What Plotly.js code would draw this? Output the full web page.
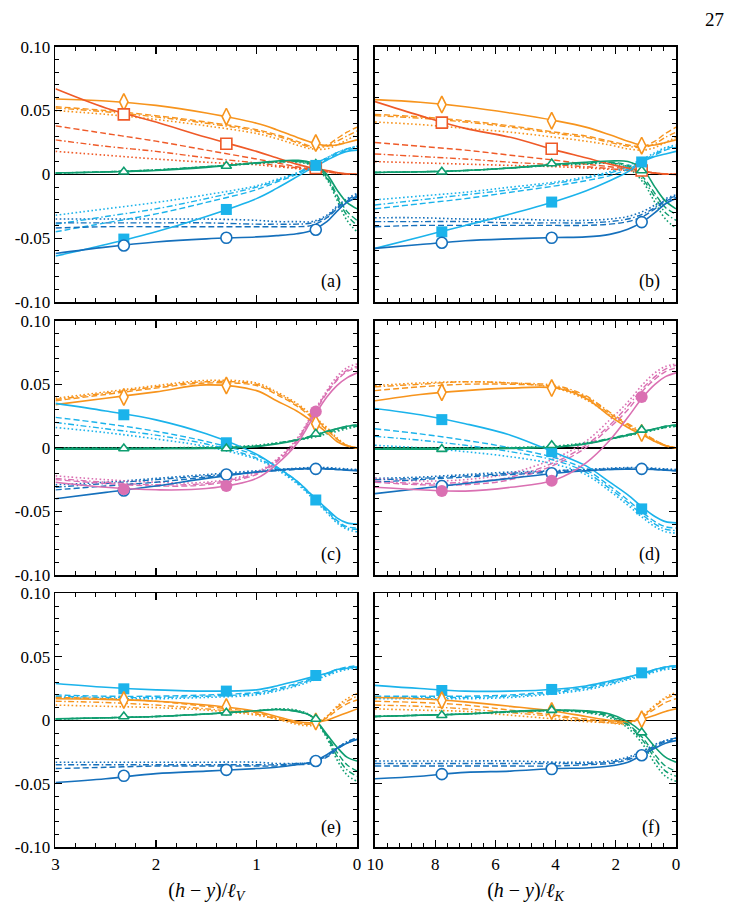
<!DOCTYPE html>
<html><head><meta charset="utf-8">
<script src="https://cdn.plot.ly/plotly-3.0.1.min.js"></script>
<style>html,body{margin:0;padding:0;background:#fff}#chart{width:732px;height:910px}</style>
</head><body><div id="chart"></div>
<script>
// ---------- x grids ----------
const xL = [3, 2.5, 2, 1.5, 1, 0.8, 0.6, 0.45, 0.3, 0.2, 0.1, 0];
const xR = [10, 8.5, 7, 5.5, 4, 3, 2.2, 1.6, 1.1, 0.7, 0.35, 0];
const mkXL = [2.32, 1.3, 0.41];
const mkXR = [7.78, 4.13, 1.14];
const xTickL = [3, 2, 1, 0];
const xTickR = [10, 8, 6, 4, 2, 0];
const yTickVals = [-0.1, -0.05, 0, 0.05, 0.1];
const yTickText = ['-0.10', '-0.05', '0', '0.05', '0.10'];
const panelLabels = ['(a)', '(b)', '(c)', '(d)', '(e)', '(f)'];
const xTitleL = '(<i>h</i> − <i>y</i>)/<i>ℓ</i><sub><i>V</i></sub>';
const xTitleR = '(<i>h</i> − <i>y</i>)/<i>ℓ</i><sub><i>K</i></sub>';
const pageNumber = '27';

// each group: [solid, dashed, dash-dot, dotted]
// ---------- panel (a) ----------
const aOrange = [
  [0.059, 0.0575, 0.054, 0.048, 0.040, 0.035, 0.029, 0.025, 0.0225, 0.023, 0.025, 0.027],
  [0.053, 0.050, 0.046, 0.041, 0.035, 0.031, 0.026, 0.022, 0.023, 0.028, 0.033, 0.037],
  [0.052, 0.049, 0.045, 0.040, 0.034, 0.030, 0.025, 0.021, 0.022, 0.026, 0.030, 0.034],
  [0.050, 0.047, 0.043, 0.038, 0.032, 0.028, 0.023, 0.020, 0.020, 0.023, 0.027, 0.031]];
const aVerm = [
  [0.067, 0.052, 0.041, 0.029, 0.018, 0.013, 0.008, 0.005, 0.003, 0.0015, 0.0005, 0],
  [0.038, 0.032, 0.026, 0.019, 0.012, 0.009, 0.006, 0.004, 0.002, 0.001, 0.0003, 0],
  [0.027, 0.022, 0.018, 0.013, 0.009, 0.007, 0.005, 0.003, 0.002, 0.001, 0.0003, 0],
  [0.018, 0.015, 0.012, 0.0095, 0.0075, 0.006, 0.0045, 0.003, 0.002, 0.001, 0.0003, 0]];
const aGreen = [
  [0.0012, 0.0018, 0.003, 0.0055, 0.009, 0.0105, 0.011, 0.009, 0.0, -0.012, -0.022, -0.027],
  [0.001, 0.002, 0.0035, 0.006, 0.009, 0.010, 0.0105, 0.008, -0.002, -0.016, -0.029, -0.036],
  [0.001, 0.002, 0.0035, 0.006, 0.0085, 0.0095, 0.010, 0.0075, -0.003, -0.018, -0.032, -0.040],
  [0.001, 0.002, 0.0035, 0.006, 0.0085, 0.0095, 0.0095, 0.007, -0.004, -0.020, -0.036, -0.045]];
const aSky = [
  [-0.064, -0.055, -0.045, -0.033, -0.019, -0.011, -0.002, 0.005, 0.011, 0.015, 0.018, 0.019],
  [-0.045, -0.038, -0.031, -0.022, -0.012, -0.006, 0.0, 0.006, 0.012, 0.016, 0.019, 0.021],
  [-0.039, -0.033, -0.027, -0.019, -0.010, -0.005, 0.001, 0.007, 0.013, 0.017, 0.020, 0.022],
  [-0.032, -0.027, -0.022, -0.016, -0.009, -0.004, 0.001, 0.007, 0.013, 0.017, 0.020, 0.022]];
const aDark = [
  [-0.062, -0.057, -0.053, -0.0505, -0.049, -0.048, -0.0465, -0.044, -0.037, -0.029, -0.022, -0.018],
  [-0.042, -0.041, -0.041, -0.041, -0.041, -0.041, -0.041, -0.040, -0.034, -0.027, -0.021, -0.017],
  [-0.038, -0.038, -0.038, -0.038, -0.039, -0.039, -0.039, -0.038, -0.033, -0.026, -0.020, -0.016],
  [-0.035, -0.035, -0.035, -0.035, -0.036, -0.037, -0.037, -0.037, -0.032, -0.025, -0.019, -0.015]];
const aOrangeMk = [0.0567, 0.0452, 0.0245];
const aVermMk = [0.047, 0.024, 0.005];
const aGreenMk = [0.002, 0.0065, 0.008];
const aSkyMk = [-0.0507, -0.0275, 0.007];
const aDarkMk = [-0.0557, -0.0497, -0.0434];

// ---------- panel (b) ----------
const bOrange = [
  [0.0585, 0.0565, 0.053, 0.048, 0.042, 0.037, 0.031, 0.026, 0.0225, 0.023, 0.025, 0.027],
  [0.047, 0.045, 0.042, 0.038, 0.033, 0.030, 0.026, 0.023, 0.022, 0.026, 0.032, 0.037],
  [0.046, 0.044, 0.041, 0.037, 0.032, 0.029, 0.025, 0.022, 0.021, 0.024, 0.029, 0.033],
  [0.041, 0.039, 0.036, 0.033, 0.029, 0.026, 0.023, 0.020, 0.019, 0.021, 0.025, 0.029]];
const bVerm = [
  [0.057, 0.046, 0.036, 0.029, 0.019, 0.013, 0.008, 0.005, 0.003, 0.001, 0.0003, 0],
  [0.025, 0.022, 0.019, 0.015, 0.011, 0.008, 0.006, 0.004, 0.002, 0.001, 0.0003, 0],
  [0.016, 0.014, 0.012, 0.0095, 0.0075, 0.006, 0.0045, 0.003, 0.002, 0.001, 0.0003, 0],
  [0.010, 0.009, 0.008, 0.007, 0.006, 0.005, 0.004, 0.003, 0.002, 0.001, 0.0003, 0]];
const bGreen = [
  [0.0015, 0.002, 0.003, 0.005, 0.008, 0.0095, 0.0105, 0.010, 0.004, -0.010, -0.021, -0.027],
  [0.0015, 0.002, 0.003, 0.005, 0.0075, 0.009, 0.0095, 0.007, -0.002, -0.015, -0.026, -0.031],
  [0.0015, 0.002, 0.003, 0.005, 0.0075, 0.0085, 0.009, 0.006, -0.004, -0.018, -0.030, -0.036],
  [0.0015, 0.002, 0.003, 0.005, 0.007, 0.008, 0.0085, 0.005, -0.006, -0.022, -0.035, -0.042]];
const bSky = [
  [-0.058, -0.049, -0.040, -0.031, -0.021, -0.013, -0.005, 0.002, 0.010, 0.014, 0.016, 0.018],
  [-0.027, -0.023, -0.019, -0.014, -0.009, -0.005, -0.001, 0.004, 0.010, 0.015, 0.019, 0.021],
  [-0.024, -0.020, -0.016, -0.012, -0.007, -0.003, 0.001, 0.006, 0.011, 0.016, 0.020, 0.022],
  [-0.020, -0.017, -0.014, -0.010, -0.006, -0.002, 0.002, 0.007, 0.012, 0.017, 0.021, 0.023]];
const bDark = [
  [-0.058, -0.055, -0.052, -0.0505, -0.0495, -0.049, -0.047, -0.043, -0.037, -0.030, -0.023, -0.019],
  [-0.041, -0.040, -0.040, -0.040, -0.040, -0.040, -0.039, -0.037, -0.033, -0.027, -0.021, -0.018],
  [-0.037, -0.037, -0.037, -0.038, -0.038, -0.038, -0.037, -0.035, -0.031, -0.026, -0.020, -0.017],
  [-0.034, -0.034, -0.035, -0.035, -0.036, -0.036, -0.035, -0.033, -0.029, -0.024, -0.019, -0.016]];
const bOrangeMk = [0.0547, 0.042, 0.0225];
const bVermMk = [0.0405, 0.020, 0.003];
const bGreenMk = [0.002, 0.0085, 0.003];
const bSkyMk = [-0.045, -0.0217, 0.0097];
const bDarkMk = [-0.0536, -0.0497, -0.0374];

// ---------- panel (c) ----------
const cOrange = [
  [0.034, 0.039, 0.044, 0.0495, 0.045, 0.037, 0.029, 0.021, 0.012, 0.005, 0.0015, 0],
  [0.037, 0.042, 0.047, 0.051, 0.049, 0.042, 0.033, 0.024, 0.014, 0.007, 0.002, 0],
  [0.038, 0.043, 0.048, 0.052, 0.050, 0.043, 0.034, 0.025, 0.015, 0.007, 0.002, 0],
  [0.039, 0.044, 0.049, 0.053, 0.051, 0.044, 0.035, 0.026, 0.016, 0.008, 0.002, 0]];
const cSky = [
  [0.035, 0.029, 0.022, 0.011, -0.005, -0.015, -0.026, -0.037, -0.048, -0.055, -0.059, -0.060],
  [0.024, 0.019, 0.013, 0.005, -0.006, -0.015, -0.026, -0.037, -0.049, -0.057, -0.062, -0.063],
  [0.020, 0.015, 0.010, 0.003, -0.008, -0.016, -0.027, -0.038, -0.050, -0.058, -0.063, -0.064],
  [0.016, 0.012, 0.007, 0.001, -0.009, -0.017, -0.028, -0.039, -0.051, -0.059, -0.064, -0.066]];
const cGreen = [
  [-0.001, -0.001, -0.0008, -0.0005, 0.001, 0.003, 0.006, 0.009, 0.013, 0.015, 0.017, 0.018],
  [-0.0005, -0.0005, -0.0003, 0.0, 0.0015, 0.0035, 0.0065, 0.0095, 0.013, 0.015, 0.017, 0.018],
  [-0.0005, -0.0005, -0.0003, 0.0, 0.0015, 0.0035, 0.0065, 0.009, 0.012, 0.014, 0.016, 0.017],
  [0, 0, 0, 0.0005, 0.002, 0.004, 0.006, 0.008, 0.011, 0.013, 0.015, 0.017]];
const cDark = [
  [-0.040, -0.035, -0.030, -0.024, -0.019, -0.0175, -0.0165, -0.0163, -0.0165, -0.017, -0.0175, -0.0178],
  [-0.033, -0.030, -0.027, -0.023, -0.019, -0.018, -0.017, -0.0165, -0.0167, -0.017, -0.0175, -0.018],
  [-0.031, -0.028, -0.025, -0.022, -0.019, -0.0175, -0.0165, -0.016, -0.016, -0.0165, -0.017, -0.0175],
  [-0.029, -0.027, -0.024, -0.021, -0.018, -0.017, -0.016, -0.0155, -0.0155, -0.016, -0.0165, -0.017]];
const cPink = [
  [-0.027, -0.031, -0.033, -0.032, -0.024, -0.013, 0.003, 0.022, 0.040, 0.049, 0.055, 0.059],
  [-0.025, -0.028, -0.030, -0.029, -0.021, -0.011, 0.005, 0.024, 0.043, 0.053, 0.060, 0.063],
  [-0.024, -0.027, -0.029, -0.028, -0.020, -0.010, 0.006, 0.025, 0.044, 0.054, 0.061, 0.064],
  [-0.022, -0.025, -0.027, -0.027, -0.019, -0.009, 0.007, 0.026, 0.045, 0.056, 0.063, 0.066]];
const cOrangeMk = [0.040, 0.049, 0.019];
const cSkyMk = [0.026, 0.004, -0.041];
const cGreenMk = [-0.0005, -0.0005, 0.011];
const cDarkMk = [-0.0335, -0.021, -0.0165];
const cPinkMk = [-0.0326, -0.030, 0.0285];

// ---------- panel (d) ----------
const dOrange = [
  [0.037, 0.042, 0.045, 0.047, 0.047, 0.039, 0.025, 0.016, 0.010, 0.005, 0.0015, 0],
  [0.045, 0.048, 0.050, 0.050, 0.048, 0.040, 0.027, 0.018, 0.011, 0.006, 0.002, 0],
  [0.048, 0.050, 0.052, 0.051, 0.049, 0.041, 0.028, 0.019, 0.012, 0.006, 0.002, 0],
  [0.049, 0.051, 0.052, 0.051, 0.047, 0.038, 0.026, 0.017, 0.011, 0.005, 0.002, 0]];
const dSky = [
  [0.031, 0.026, 0.019, 0.010, -0.004, -0.014, -0.027, -0.037, -0.047, -0.054, -0.058, -0.059],
  [0.015, 0.011, 0.006, 0.000, -0.008, -0.017, -0.030, -0.041, -0.051, -0.058, -0.062, -0.063],
  [0.009, 0.006, 0.002, -0.003, -0.010, -0.019, -0.032, -0.043, -0.053, -0.060, -0.064, -0.065],
  [0.002, 0.000, -0.003, -0.007, -0.013, -0.021, -0.034, -0.045, -0.055, -0.062, -0.066, -0.067]];
const dGreen = [
  [-0.001, -0.001, -0.001, -0.0005, 0.0005, 0.003, 0.007, 0.010, 0.013, 0.015, 0.017, 0.018],
  [-0.0005, -0.0005, -0.0005, 0, 0.001, 0.0035, 0.0075, 0.0105, 0.013, 0.015, 0.017, 0.018],
  [-0.0005, -0.0005, -0.0005, 0, 0.001, 0.0035, 0.007, 0.010, 0.0125, 0.0145, 0.016, 0.017],
  [0, 0, 0, 0.0003, 0.0015, 0.004, 0.007, 0.0095, 0.012, 0.014, 0.016, 0.017]];
const dDark = [
  [-0.036, -0.032, -0.028, -0.024, -0.020, -0.018, -0.017, -0.0168, -0.0168, -0.017, -0.0175, -0.018],
  [-0.027, -0.025, -0.023, -0.021, -0.019, -0.018, -0.017, -0.0168, -0.0168, -0.017, -0.0175, -0.018],
  [-0.025, -0.024, -0.022, -0.020, -0.018, -0.017, -0.0165, -0.016, -0.016, -0.0165, -0.017, -0.0175],
  [-0.024, -0.023, -0.021, -0.019, -0.018, -0.017, -0.016, -0.0155, -0.0155, -0.016, -0.0165, -0.017]];
const dPink = [
  [-0.031, -0.033, -0.034, -0.031, -0.025, -0.012, 0.006, 0.024, 0.040, 0.050, 0.056, 0.059],
  [-0.027, -0.029, -0.029, -0.025, -0.013, 0.000, 0.016, 0.030, 0.045, 0.054, 0.060, 0.063],
  [-0.026, -0.028, -0.027, -0.023, -0.011, 0.002, 0.018, 0.033, 0.047, 0.056, 0.062, 0.065],
  [-0.024, -0.026, -0.025, -0.020, -0.008, 0.005, 0.022, 0.036, 0.050, 0.059, 0.064, 0.066]];
const dOrangeMk = [0.0437, 0.047, 0.0116];
const dSkyMk = [0.0222, -0.003, -0.048];
const dGreenMk = [-0.001, 0.002, 0.0141];
const dDarkMk = [-0.030, -0.020, -0.0165];
const dPinkMk = [-0.034, -0.0258, 0.040];

// ---------- panel (e) ----------
const eSky = [
  [0.029, 0.026, 0.024, 0.023, 0.024, 0.027, 0.031, 0.034, 0.037, 0.040, 0.041, 0.042],
  [0.020, 0.019, 0.019, 0.020, 0.022, 0.025, 0.029, 0.033, 0.037, 0.040, 0.042, 0.043],
  [0.019, 0.018, 0.018, 0.019, 0.021, 0.024, 0.028, 0.032, 0.036, 0.039, 0.041, 0.042],
  [0.018, 0.017, 0.017, 0.018, 0.020, 0.023, 0.027, 0.031, 0.035, 0.038, 0.040, 0.041]];
const eOrange = [
  [0.017, 0.0165, 0.015, 0.012, 0.007, 0.003, -0.001, -0.002, 0.000, 0.003, 0.006, 0.009],
  [0.018, 0.017, 0.015, 0.011, 0.006, 0.002, -0.002, -0.003, 0.002, 0.008, 0.013, 0.016],
  [0.015, 0.014, 0.012, 0.009, 0.005, 0.001, -0.002, -0.003, 0.003, 0.010, 0.015, 0.019],
  [0.012, 0.011, 0.010, 0.008, 0.004, 0.001, -0.003, -0.004, 0.003, 0.011, 0.017, 0.021]];
const eGreen = [
  [0.0012, 0.002, 0.003, 0.005, 0.0075, 0.0085, 0.007, 0.003, -0.011, -0.021, -0.029, -0.032],
  [0.001, 0.002, 0.003, 0.005, 0.0075, 0.0085, 0.007, 0.003, -0.012, -0.025, -0.035, -0.040],
  [0.001, 0.002, 0.003, 0.005, 0.0075, 0.0085, 0.0075, 0.003, -0.013, -0.028, -0.039, -0.044],
  [0.001, 0.002, 0.003, 0.005, 0.0075, 0.009, 0.008, 0.003, -0.014, -0.031, -0.043, -0.048]];
const eDark = [
  [-0.049, -0.046, -0.042, -0.040, -0.038, -0.037, -0.035, -0.033, -0.027, -0.022, -0.018, -0.015],
  [-0.038, -0.037, -0.036, -0.036, -0.036, -0.036, -0.035, -0.034, -0.029, -0.023, -0.018, -0.015],
  [-0.035, -0.035, -0.035, -0.035, -0.035, -0.035, -0.034, -0.033, -0.028, -0.022, -0.017, -0.014],
  [-0.033, -0.033, -0.033, -0.033, -0.033, -0.034, -0.034, -0.033, -0.028, -0.022, -0.017, -0.014]];
const eSkyMk = [0.0248, 0.023, 0.0353];
const eOrangeMk = [0.016, 0.0105, -0.001];
const eGreenMk = [0.003, 0.006, 0.001];
const eDarkMk = [-0.0437, -0.039, -0.032];

// ---------- panel (f) ----------
const fSky = [
  [0.0275, 0.025, 0.023, 0.023, 0.0245, 0.027, 0.031, 0.034, 0.037, 0.040, 0.042, 0.043],
  [0.019, 0.019, 0.019, 0.020, 0.023, 0.026, 0.030, 0.034, 0.037, 0.040, 0.042, 0.043],
  [0.018, 0.018, 0.018, 0.019, 0.022, 0.025, 0.029, 0.033, 0.036, 0.039, 0.041, 0.042],
  [0.017, 0.017, 0.017, 0.018, 0.021, 0.024, 0.028, 0.032, 0.035, 0.038, 0.040, 0.041]];
const fOrange = [
  [0.018, 0.017, 0.0145, 0.011, 0.007, 0.003, 0.000, -0.001, 0.001, 0.004, 0.007, 0.009],
  [0.015, 0.014, 0.012, 0.008, 0.004, 0.001, -0.001, -0.002, 0.003, 0.009, 0.014, 0.017],
  [0.012, 0.011, 0.009, 0.006, 0.003, 0.000, -0.002, -0.002, 0.004, 0.011, 0.017, 0.020],
  [0.009, 0.008, 0.007, 0.004, 0.001, -0.001, -0.002, -0.003, 0.004, 0.012, 0.018, 0.022]];
const fGreen = [
  [0.003, 0.004, 0.005, 0.007, 0.008, 0.0075, 0.005, -0.001, -0.010, -0.021, -0.029, -0.033],
  [0.003, 0.004, 0.005, 0.007, 0.008, 0.007, 0.004, -0.003, -0.014, -0.027, -0.036, -0.040],
  [0.003, 0.004, 0.005, 0.0065, 0.0075, 0.0065, 0.003, -0.004, -0.016, -0.030, -0.040, -0.044],
  [0.003, 0.004, 0.005, 0.0065, 0.0075, 0.006, 0.002, -0.006, -0.019, -0.034, -0.044, -0.048]];
const fDark = [
  [-0.046, -0.044, -0.041, -0.040, -0.038, -0.0375, -0.036, -0.033, -0.027, -0.022, -0.018, -0.016],
  [-0.036, -0.036, -0.036, -0.036, -0.036, -0.035, -0.034, -0.031, -0.026, -0.021, -0.017, -0.015],
  [-0.034, -0.034, -0.034, -0.034, -0.034, -0.034, -0.033, -0.030, -0.025, -0.020, -0.016, -0.014],
  [-0.032, -0.032, -0.032, -0.032, -0.033, -0.033, -0.032, -0.029, -0.024, -0.019, -0.016, -0.014]];
const fSkyMk = [0.0235, 0.0243, 0.0374];
const fOrangeMk = [0.0157, 0.0073, 0.0008];
const fGreenMk = [0.004, 0.008, -0.0097];
const fDarkMk = [-0.0424, -0.0384, -0.0275];

// ---------- styling ----------
const COLORS = {orange:'#F7941D', verm:'#EF5A28', green:'#0F9E70', sky:'#1BB3EB', dark:'#1570BC', pink:'#DA70B2'};
const DASHES = ['solid', '6px,3px', '6px,2.5px,1.5px,2.5px', '1.6px,2.4px'];
const WIDTHS = [1.6, 1.4, 1.4, 1.6];
const MK = {
  orange:{symbol:'diamond-tall', size:12, open:true},
  verm:{symbol:'square', size:11, open:true},
  green:{symbol:'triangle-up', size:9, open:true},
  sky:{symbol:'square', size:11, open:false},
  dark:{symbol:'circle', size:11, open:true},
  pink:{symbol:'circle', size:12, open:false}
};

const panels = [
  {xs:xL, mx:mkXL, groups:[['orange',aOrange,aOrangeMk],['verm',aVerm,aVermMk],['green',aGreen,aGreenMk],['sky',aSky,aSkyMk],['dark',aDark,aDarkMk]]},
  {xs:xR, mx:mkXR, groups:[['orange',bOrange,bOrangeMk],['verm',bVerm,bVermMk],['green',bGreen,bGreenMk],['sky',bSky,bSkyMk],['dark',bDark,bDarkMk]]},
  {xs:xL, mx:mkXL, groups:[['orange',cOrange,cOrangeMk],['sky',cSky,cSkyMk],['green',cGreen,cGreenMk],['dark',cDark,cDarkMk],['pink',cPink,cPinkMk]]},
  {xs:xR, mx:mkXR, groups:[['orange',dOrange,dOrangeMk],['sky',dSky,dSkyMk],['green',dGreen,dGreenMk],['dark',dDark,dDarkMk],['pink',dPink,dPinkMk]]},
  {xs:xL, mx:mkXL, groups:[['sky',eSky,eSkyMk],['orange',eOrange,eOrangeMk],['green',eGreen,eGreenMk],['dark',eDark,eDarkMk]]},
  {xs:xR, mx:mkXR, groups:[['sky',fSky,fSkyMk],['orange',fOrange,fOrangeMk],['green',fGreen,fGreenMk],['dark',fDark,fDarkMk]]}
];

const traces = [];
const lineTrace = (xs, ys, n, col, k) => ({
  type:'scatter', mode:'lines', x:xs, y:ys,
  xaxis: n===0 ? 'x' : 'x'+(n+1), yaxis: n===0 ? 'y' : 'y'+(n+1),
  line:{color:COLORS[col], width:WIDTHS[k], dash:DASHES[k], shape:'spline', smoothing:1},
  hoverinfo:'skip', showlegend:false
});
panels.forEach((p, n) => {
  [3, 2, 1].forEach(k => p.groups.forEach(g => traces.push(lineTrace(p.xs, g[1][k], n, g[0], k))));
  p.groups.forEach(g => traces.push(lineTrace(p.xs, g[1][0], n, g[0], 0)));
  p.groups.forEach(g => {
    const m = MK[g[0]];
    traces.push({
      type:'scatter', mode:'markers', x:p.mx, y:g[2],
      xaxis: n===0 ? 'x' : 'x'+(n+1), yaxis: n===0 ? 'y' : 'y'+(n+1),
      marker:{symbol:m.symbol, size:m.size, color: m.open ? '#ffffff' : COLORS[g[0]],
              line:{color:COLORS[g[0]], width: m.open ? 1.6 : 0}},
      hoverinfo:'skip', showlegend:false, cliponaxis:false
    });
  });
});

const FONT = 'Liberation Serif';
const TICK_SIZE = 17;
const xDom = [[0.0758, 0.4877], [0.5123, 0.9235]];
const yDom = [[0.6681, 0.9487], [0.3681, 0.6476], [0.0689, 0.3480]];
const layout = {
  width:732, height:910, margin:{l:0, r:0, t:0, b:0},
  paper_bgcolor:'#ffffff', plot_bgcolor:'#ffffff',
  font:{family:FONT, size:TICK_SIZE, color:'#000'},
  showlegend:false, annotations:[]
};
for (let n = 0; n < 6; n++) {
  const col = n % 2, row = Math.floor(n / 2);
  const sfx = n === 0 ? '' : String(n + 1);
  const left = col === 0;
  const ticks = left ? xTickL : xTickR;
  const xa = {
    domain: xDom[col], range: left ? [3, 0] : [10, 0], anchor: 'y' + sfx,
    tickmode:'array', tickvals: ticks, ticktext: ticks.map(String),
    showticklabels: row === 2, ticks:'inside', ticklen:7, tickwidth:1.2, tickcolor:'#000',
    minor:{tickmode:'linear', tick0:0, dtick: left ? 0.2 : 0.4, ticks:'inside', ticklen:4, tickwidth:1, tickcolor:'#000'},
    showline:true, linecolor:'#000', linewidth:1.8, mirror:'allticks',
    showgrid:false, zeroline:false, fixedrange:true,
    tickfont:{family:FONT, size:TICK_SIZE, color:'#000'}
  };
  if (row === 2) xa.title = {text: left ? xTitleL : xTitleR, font:{family:FONT, size:20, color:'#000'}, standoff:10};
  layout['xaxis' + sfx] = xa;
  layout['yaxis' + sfx] = {
    domain: yDom[row], range:[-0.1, 0.1], anchor: 'x' + sfx,
    tickmode:'array', tickvals: yTickVals, ticktext: yTickText,
    showticklabels: left, ticks:'inside', ticklen:7, tickwidth:1.2, tickcolor:'#000',
    minor:{tickmode:'linear', tick0:0, dtick:0.01, ticks:'inside', ticklen:4, tickwidth:1, tickcolor:'#000'},
    showline:true, linecolor:'#000', linewidth:1.8, mirror:'allticks',
    showgrid:false, zeroline:true, zerolinecolor:'#000', zerolinewidth:1.6, fixedrange:true,
    tickfont:{family:FONT, size:TICK_SIZE, color:'#000'}
  };
  layout.annotations.push({
    text: panelLabels[n], xref:'x' + sfx + ' domain', yref:'y' + sfx + ' domain',
    x:0.955, y:0.03, xanchor:'right', yanchor:'bottom', showarrow:false,
    font:{family:FONT, size:18, color:'#000'}
  });
}
layout.annotations.push({
  text: pageNumber, xref:'paper', yref:'paper', x:0.992, y:0.992, xanchor:'right', yanchor:'top',
  showarrow:false, font:{family:FONT, size:19, color:'#000'}
});

Plotly.newPlot('chart', traces, layout, {staticPlot:true, displayModeBar:false});
</script>
</body></html>
